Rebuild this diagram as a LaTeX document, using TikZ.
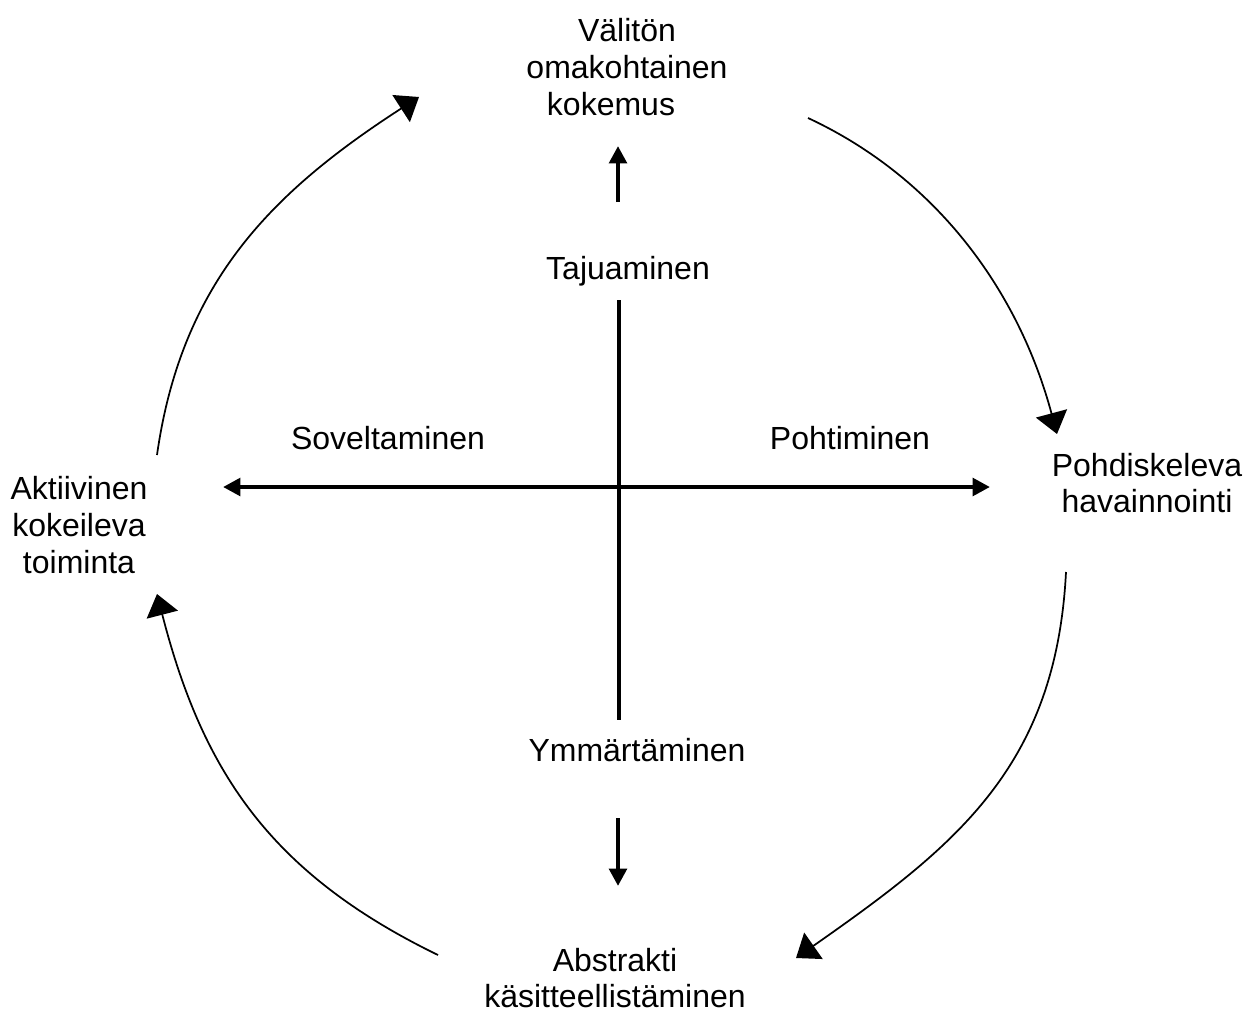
\documentclass[tikz,border=0pt]{standalone}
\usepackage{fontspec}
\setmainfont{Liberation Sans}
\usetikzlibrary{arrows.meta}
\begin{document}
\begin{tikzpicture}[x=0.75pt,y=-0.75pt,
  lbl/.style={font=\fontsize{24pt}{27.6pt}\selectfont, inner sep=0pt, align=center},
  cyc/.style={line width=1.3pt, -{Triangle[length=16pt,width=24pt]}},
  axisline/.style={line width=3.6pt},
  axisarrow/.style={line width=3.6pt, -{Triangle[length=13pt,width=13pt]}},
  axisboth/.style={line width=3.6pt, {Triangle[length=13pt,width=13pt]}-{Triangle[length=13pt,width=13pt]}}
  ]
\useasboundingbox (0,0) rectangle (1245,1014);

% labels
\node[lbl] (exp) at (627,67) {Välitön\\omakohtainen\\kokemus\hspace*{24pt}};
\node[lbl] (obs) at (1147,483) {Pohdiskeleva\\havainnointi};
\node[lbl] (abs) at (615,978) {Abstrakti\\käsitteellistäminen};
\node[lbl] (act) at (79,525) {Aktiivinen\\kokeileva\\toiminta};
\node[lbl] (taju) at (628,271) {Tajuaminen};
\node[lbl] (sov) at (388,438) {Soveltaminen};
\node[lbl] (poh) at (850,438) {Pohtiminen};
\node[lbl] (ymm) at (637,750) {Ymmärtäminen};

% axis coordinates
\coordinate (vtop) at (619,300);
\coordinate (vbot) at (619,720);
\coordinate (hl) at (223,487);
\coordinate (hr) at (990,487);
\coordinate (ups) at (618,202);
\coordinate (upe) at (618,146);
\coordinate (dns) at (618,818);
\coordinate (dne) at (618,886);

\draw[axisline] (vtop) -- (vbot);
\draw[axisboth] (hl) -- (hr);
\draw[axisarrow] (ups) -- (upe);
\draw[axisarrow] (dns) -- (dne);

% cycle arcs
\coordinate (a1s) at (808,118);
\coordinate (a1e) at (1057,434);
\coordinate (a2s) at (1066,572);
\coordinate (a2e) at (796,958);
\coordinate (a3s) at (438,955);
\coordinate (a3e) at (157,594);
\coordinate (a4s) at (157,455);
\coordinate (a4e) at (419,97);

\draw[cyc] (a1s) .. controls (939,179) and (1019.5,294) .. (a1e);
\draw[cyc] (a2s) .. controls (1056,767) and (956,846) .. (a2e);
\draw[cyc] (a3s) .. controls (271.5,874) and (203,773) .. (a3e);
\draw[cyc] (a4s) .. controls (181.5,282) and (272,192) .. (a4e);
\end{tikzpicture}
\end{document}
